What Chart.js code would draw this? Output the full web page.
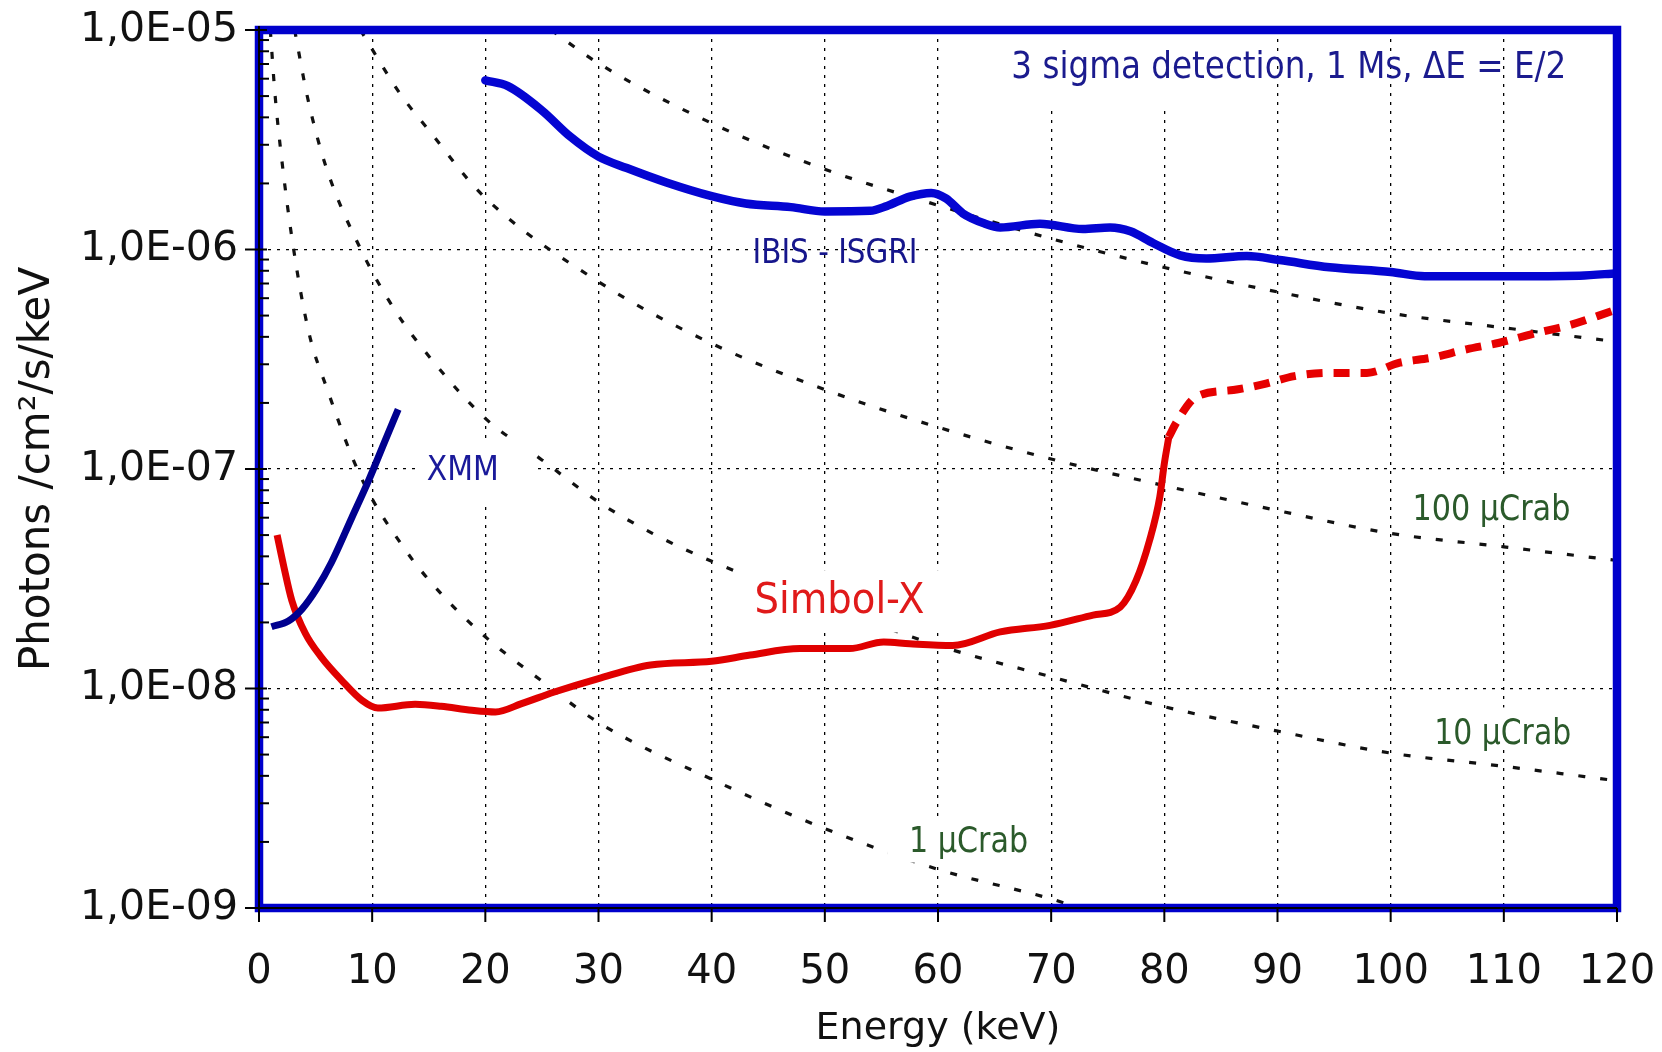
<!DOCTYPE html>
<html>
<head>
<meta charset="utf-8">
<title>Simbol-X sensitivity</title>
<script src="https://cdn.jsdelivr.net/npm/chart.js@4.4.1/dist/chart.umd.min.js"></script>
<style>
  html, body { margin: 0; padding: 0; background: #fff; }
  canvas { display: block; }
</style>
</head>
<body>
<canvas id="myChart" width="1662" height="1052"></canvas>
<script>
// Axis ticks
var xTicks = [0, 10, 20, 30, 40, 50, 60, 70, 80, 90, 100, 110, 120];
var yTicks = [1e-9, 1e-8, 1e-7, 1e-6, 1e-5];
var yTickLabels = ['1,0E-09', '1,0E-08', '1,0E-07', '1,0E-06', '1,0E-05'];
var yMinor = [2, 3, 4, 5, 6, 7, 8, 9];

// IBIS - ISGRI sensitivity (keV, photons/cm2/s/keV)
var ibisE = [20, 22, 25, 27.5, 30, 32.5, 36, 40, 43, 47, 50, 54, 55.5, 57.5, 59.4, 60.7, 62.2, 64, 65.5, 69, 72.8, 75.2, 77, 79, 81.4, 83.7, 87.3, 90.2, 94.6, 100, 103, 110, 116.7, 120];
var ibisF = [5.9e-6, 5.55e-6, 4.3e-6, 3.27e-6, 2.65e-6, 2.35e-6, 2.02e-6, 1.75e-6, 1.62e-6, 1.56e-6, 1.49e-6, 1.5e-6, 1.58e-6, 1.74e-6, 1.81e-6, 1.71e-6, 1.46e-6, 1.32e-6, 1.26e-6, 1.31e-6, 1.24e-6, 1.26e-6, 1.21e-6, 1.07e-6, 9.4e-7, 9.1e-7, 9.33e-7, 8.95e-7, 8.3e-7, 7.9e-7, 7.56e-7, 7.56e-7, 7.6e-7, 7.8e-7];

// XMM
var xmmE = [1.1, 2.6, 3.8, 5.1, 6.4, 8.2, 9.7, 11.1, 12.3];
var xmmF = [1.91e-8, 2.03e-8, 2.3e-8, 2.85e-8, 3.75e-8, 6.0e-8, 8.9e-8, 1.33e-7, 1.87e-7];

// Simbol-X, solid part and dashed part above 80 keV
var simbolE = [1.6, 2.2, 2.9, 4.1, 5.5, 7.3, 9.1, 10.5, 13.8, 16.1, 18.8, 20.9, 23.2, 26.1, 30, 34.6, 40, 43.4, 47.8, 52.2, 55.2, 57.5, 61.3, 65.5, 69.9, 73.7, 76.1, 77.5, 78.7, 79.6, 80.0, 80.4];
var simbolF = [5.0e-8, 3.58e-8, 2.52e-8, 1.78e-8, 1.39e-8, 1.09e-8, 8.83e-9, 8.15e-9, 8.47e-9, 8.3e-9, 7.96e-9, 7.82e-9, 8.53e-9, 9.64e-9, 1.11e-8, 1.28e-8, 1.33e-8, 1.42e-8, 1.52e-8, 1.52e-8, 1.63e-8, 1.6e-8, 1.57e-8, 1.81e-8, 1.94e-8, 2.16e-8, 2.35e-8, 3.1e-8, 4.74e-8, 7.47e-8, 1.06e-7, 1.4e-7];
var simbolHiE = [80.4, 81.1, 82.8, 86.1, 88.7, 91.5, 94.6, 97.9, 100.8, 103.7, 106.7, 109.6, 112.9, 115.8, 119.6];
var simbolHiF = [1.4e-7, 1.64e-7, 2.13e-7, 2.29e-7, 2.43e-7, 2.65e-7, 2.74e-7, 2.74e-7, 3.05e-7, 3.22e-7, 3.51e-7, 3.76e-7, 4.17e-7, 4.52e-7, 5.25e-7];

// Crab reference lines
var crab1mE = [25.8, 30, 40, 50, 60, 70, 80, 90, 100, 110, 120];
var crab1mF = [1e-5, 7.05e-6, 3.76e-6, 2.32e-6, 1.59e-6, 1.12e-6, 8.28e-7, 6.41e-7, 5.12e-7, 4.4e-7, 3.8e-7];
var crab100uE = [8.96, 12.5, 15, 19.7, 30, 40, 50, 60, 70, 80, 90, 100, 110, 120];
var crab100uF = [1e-5, 5.1e-6, 3.5e-6, 1.78e-6, 7.13e-7, 3.73e-7, 2.3e-7, 1.55e-7, 1.11e-7, 8.4e-8, 6.47e-8, 5.09e-8, 4.42e-8, 3.83e-8];
var crab10uE = [3.15, 4.3, 5.9, 9.0, 12, 15.3, 20, 25, 30, 34.8, 40, 50, 60, 70, 80, 90, 100, 110, 120];
var crab10uF = [1e-5, 4.9e-6, 2.4e-6, 1.0e-6, 5.3e-7, 3.13e-7, 1.7e-7, 1.1e-7, 7.08e-8, 5.08e-8, 3.8e-8, 2.4e-8, 1.57e-8, 1.13e-8, 8.26e-9, 6.4e-9, 5.08e-9, 4.42e-9, 3.8e-9];
var crab1uE = [1.0, 1.4, 2.0, 3.0, 4.4, 6.0, 9.0, 12.9, 16.1, 20, 24.7, 30, 40, 50, 60, 70, 72.5];
var crab1uF = [1e-5, 5.2e-6, 2.6e-6, 1.05e-6, 4.2e-7, 2.33e-7, 9.2e-8, 4.3e-8, 2.7e-8, 1.72e-8, 1.11e-8, 7.0e-9, 3.86e-9, 2.3e-9, 1.5e-9, 1.1e-9, 1.0e-9];

// Text labels placed in data coordinates (white boxes behind some of them)
var notes = [
  { text: '3 sigma detection, 1 Ms, \u0394E = E/2', x: 91.0, y: 6.92e-6, size: 36.6, w: 555, color: '#1b1b8e' },
  { text: 'IBIS - ISGRI', x: 50.9, y: 9.86e-7, size: 34, w: 165, color: '#16168c' },
  { text: 'XMM', x: 18.0, y: 1.02e-7, size: 34, w: 72, color: '#1a1a9a' },
  { text: 'Simbol-X', x: 51.3, y: 2.59e-8, size: 43, w: 170, color: '#e01a1a' },
  { text: '100 \u00b5Crab', x: 108.9, y: 6.7e-8, size: 36, w: 158, color: '#2b5a2b' },
  { text: '10 \u00b5Crab', x: 109.9, y: 6.38e-9, size: 36, w: 137, color: '#2b5a2b' },
  { text: '1 \u00b5Crab', x: 62.7, y: 2.06e-9, size: 36, w: 119, color: '#2b5a2b' }
];
var boxes = [
  { x0: 64, x1: 86, y0: 4.4e-6, y1: 1e-5 },
  { x0: 14.0, x1: 24.4, y0: 6.98e-8, y1: 1.38e-7 },
  { x0: 42.0, x1: 60.6, y0: 1.8e-8, y1: 3.46e-8 },
  { x0: 101.2, x1: 116.3, y0: 5.6e-8, y1: 9.0e-8 },
  { x0: 103, x1: 116.3, y0: 5.57e-9, y1: 8.2e-9 },
  { x0: 55.5, x1: 68.5, y0: 1.61e-9, y1: 2.59e-9 }
];

function pts(es, fs) {
  return es.map(function (e, i) { return { x: e, y: fs[i] }; });
}

function crabSet(label, es, fs) {
  return {
    label: label, data: pts(es, fs),
    borderColor: '#111', borderWidth: 3.2, borderDash: [7, 15],
    pointRadius: 0, cubicInterpolationMode: 'monotone', fill: false
  };
}

var instruments = ['IBIS - ISGRI', 'XMM', 'Simbol-X', 'Simbol-X high'];

// first datasets are drawn last (on top)
var data = {
  datasets: [
    { label: 'IBIS - ISGRI', data: pts(ibisE, ibisF), borderColor: '#0505d2', borderWidth: 8.5, pointRadius: 0, cubicInterpolationMode: 'monotone', borderCapStyle: 'round' },
    { label: 'XMM', data: pts(xmmE, xmmF), borderColor: '#00008f', borderWidth: 7, pointRadius: 0, cubicInterpolationMode: 'monotone' },
    { label: 'Simbol-X', data: pts(simbolE, simbolF), borderColor: '#e00000', borderWidth: 7, pointRadius: 0, cubicInterpolationMode: 'monotone' },
    { label: 'Simbol-X high', data: pts(simbolHiE, simbolHiF), borderColor: '#e60000', borderWidth: 8, borderDash: [16, 11], pointRadius: 0, cubicInterpolationMode: 'monotone' },
    crabSet('1 mCrab', crab1mE, crab1mF),
    crabSet('100 uCrab', crab100uE, crab100uF),
    crabSet('10 uCrab', crab10uE, crab10uF),
    crabSet('1 uCrab', crab1uE, crab1uF)
  ]
};

function line(ctx, x0, y0, x1, y1) {
  ctx.beginPath(); ctx.moveTo(x0, y0); ctx.lineTo(x1, y1); ctx.stroke();
}

var framePlugin = {
  id: 'frame',
  beforeDatasetsDraw: function (chart) { chart.$boxesDone = false; },
  beforeDatasetDraw: function (chart, args) {
    if (chart.$boxesDone) return;
    if (instruments.indexOf(chart.data.datasets[args.index].label) < 0) return;
    // white boxes go over the crab lines but under the instrument curves
    var ctx = chart.ctx, xs = chart.scales.x, ys = chart.scales.y;
    ctx.save();
    ctx.fillStyle = '#fff';
    boxes.forEach(function (b) {
      var l = xs.getPixelForValue(b.x0), r = xs.getPixelForValue(b.x1);
      var t = ys.getPixelForValue(b.y1), btm = ys.getPixelForValue(b.y0);
      ctx.fillRect(l, t, r - l, btm - t);
    });
    ctx.restore();
    chart.$boxesDone = true;
  },
  afterDatasetsDraw: function (chart) {
    var ctx = chart.ctx, xs = chart.scales.x, ys = chart.scales.y;
    var a = chart.chartArea;

    // labels, squeezed to the width they have in the original
    notes.forEach(function (n) {
      ctx.save();
      ctx.font = n.size + 'px "DejaVu Sans"';
      var w = ctx.measureText(n.text).width;
      var cx = xs.getPixelForValue(n.x), cy = ys.getPixelForValue(n.y);
      ctx.translate(cx, cy + 0.729 * n.size / 2);
      ctx.scale(n.w / w, 1);
      ctx.fillStyle = n.color;
      ctx.textAlign = 'center';
      ctx.textBaseline = 'alphabetic';
      ctx.fillText(n.text, 0, 0);
      ctx.restore();
    });

    // blue frame
    ctx.save();
    ctx.strokeStyle = '#0000cc';
    ctx.lineWidth = 8.5;
    ctx.strokeRect(a.left, a.top, a.right - a.left, a.bottom - a.top);

    // black axes and ticks
    ctx.strokeStyle = '#000';
    ctx.lineWidth = 2;
    line(ctx, a.left, a.top - 4, a.left, a.bottom);
    line(ctx, a.left, a.bottom, a.right, a.bottom);
    yTicks.forEach(function (v, i) {
      var p = ys.getPixelForValue(v);
      line(ctx, a.left - 14, p, a.left + 8, p);
      if (i < yTicks.length - 1) {
        yMinor.forEach(function (k) {
          var q = ys.getPixelForValue(v * k);
          line(ctx, a.left, q, a.left + 10, q);
        });
      }
    });
    xTicks.forEach(function (v) {
      var p = xs.getPixelForValue(v);
      line(ctx, p, a.bottom, p, a.bottom + 14);
    });
    ctx.restore();
  }
};

Chart.defaults.font.family = '"DejaVu Sans", sans-serif';
Chart.defaults.color = '#111';

var config = {
  type: 'line',
  data: data,
  options: {
    responsive: false,
    animation: false,
    devicePixelRatio: 1,
    layout: { padding: { top: 30, right: 45, left: 0, bottom: 0 } },
    plugins: { legend: { display: false }, tooltip: { enabled: false } },
    elements: { line: { tension: 0 } },
    scales: {
      x: {
        type: 'linear',
        min: 0, max: 120,
        // fixed box so the plot area matches the original
        afterFit: function (s) { s.height = 144; s.paddingLeft = 0; s.paddingRight = 0; },
        afterBuildTicks: function (s) { s.ticks = xTicks.map(function (v) { return { value: v }; }); },
        ticks: { font: { size: 40 }, color: '#111', padding: 41, maxRotation: 0 },
        grid: { color: '#000', lineWidth: 1.3, drawTicks: false },
        border: { display: false, dash: [3, 6] },
        title: { display: true, text: 'Energy (keV)', font: { size: 38 }, color: '#111', padding: { top: 0, bottom: 0 } }
      },
      y: {
        type: 'logarithmic',
        min: 1e-9, max: 1e-5,
        afterFit: function (s) { s.width = 259; s.paddingTop = 0; s.paddingBottom = 0; },
        afterBuildTicks: function (s) { s.ticks = yTicks.map(function (v) { return { value: v }; }); },
        ticks: {
          font: { size: 41 }, color: '#111', padding: 21,
          callback: function (v) {
            for (var i = 0; i < yTicks.length; i++) {
              if (Math.abs(yTicks[i] - v) / yTicks[i] < 1e-6) return yTickLabels[i];
            }
            return '';
          }
        },
        grid: { color: '#000', lineWidth: 1.3, drawTicks: false },
        border: { display: false, dash: [3, 6] },
        title: { display: true, text: 'Photons /cm\u00b2/s/keV', font: { size: 42 }, color: '#111', padding: { top: 13, bottom: 0 } }
      }
    }
  },
  plugins: [framePlugin]
};

var chartUpdate = new Chart(document.getElementById('myChart'), config);
</script>
</body>
</html>
